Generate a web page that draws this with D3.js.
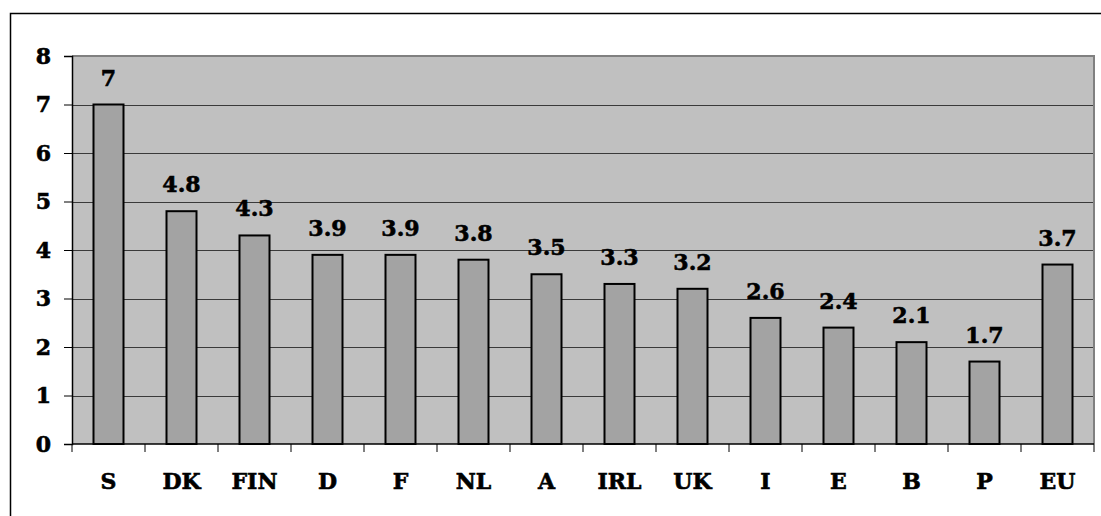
<!DOCTYPE html>
<html>
<head>
<meta charset="utf-8">
<script src="https://cdn.jsdelivr.net/npm/d3@7"></script>
<style>
  html, body { margin: 0; padding: 0; background: #ffffff; }
  svg { display: block; }
  text { font-family: "DejaVu Serif", serif; font-weight: bold; fill: #000; stroke: #000; stroke-width: 0.6px; }
</style>
</head>
<body>
<svg id="chart" width="1101" height="516"></svg>
<script>
// Country codes and their values
const categories = ["S", "DK", "FIN", "D", "F", "NL", "A", "IRL", "UK", "I", "E", "B", "P", "EU"];
const values = [7, 4.8, 4.3, 3.9, 3.9, 3.8, 3.5, 3.3, 3.2, 2.6, 2.4, 2.1, 1.7, 3.7];
const yTicks = [0, 1, 2, 3, 4, 5, 6, 7, 8];

const svg = d3.select("#chart");
const W = 1101, H = 516;

// Frame around the chart
svg.append("path")
  .attr("d", `M10.5,${H + 2} V13.5 H${W + 2}`)
  .attr("fill", "none")
  .attr("stroke", "#000")
  .attr("stroke-width", 1.5);

const plot = { left: 72, right: 1094, top: 56, bottom: 444 };

const x = d3.scaleBand()
  .domain(categories)
  .range([plot.left, plot.right])
  .paddingInner(0)
  .paddingOuter(0);

const y = d3.scaleLinear()
  .domain([0, 8])
  .range([plot.bottom, plot.top]);

// Plot background
svg.append("rect")
  .attr("x", plot.left)
  .attr("y", plot.top)
  .attr("width", plot.right - plot.left)
  .attr("height", plot.bottom - plot.top)
  .attr("fill", "#c0c0c0");

// Horizontal gridlines
svg.append("g")
  .selectAll("line")
  .data(yTicks.filter(d => d > 0 && d < 8))
  .join("line")
  .attr("x1", plot.left)
  .attr("x2", plot.right)
  .attr("y1", d => Math.round(y(d)) + 0.5)
  .attr("y2", d => Math.round(y(d)) + 0.5)
  .attr("stroke", "#3a3a3a")
  .attr("stroke-width", 1);

// Top and right plot border
svg.append("path")
  .attr("d", `M${plot.left},${plot.top} H${plot.right} V${plot.bottom}`)
  .attr("fill", "none")
  .attr("stroke", "#808080")
  .attr("stroke-width", 2);

// Bars
const barW = 30;
svg.append("g")
  .selectAll("rect")
  .data(values)
  .join("rect")
  .attr("x", (d, i) => x(categories[i]) + x.bandwidth() / 2 - barW / 2)
  .attr("y", d => y(d))
  .attr("width", barW)
  .attr("height", d => y(0) - y(d))
  .attr("fill", "#a3a3a3")
  .attr("stroke", "#000")
  .attr("stroke-width", 2);

// Value labels
svg.append("g")
  .selectAll("text")
  .data(values)
  .join("text")
  .attr("x", (d, i) => x(categories[i]) + x.bandwidth() / 2)
  .attr("y", d => y(d) - 19)
  .attr("text-anchor", "middle")
  .attr("font-size", 22)
  .text(d => String(d));

// Y axis
const yAxis = d3.axisLeft(y)
  .tickValues(yTicks)
  .tickSize(8)
  .tickPadding(13)
  .tickFormat(d3.format("d"));
const gy = svg.append("g")
  .attr("transform", `translate(${plot.left},0)`)
  .call(yAxis);
gy.select(".domain").attr("stroke", "#000").attr("stroke-width", 1.5);
gy.selectAll(".tick line").attr("stroke", "#000").attr("stroke-width", 1);
gy.selectAll(".tick text")
  .attr("font-family", "DejaVu Serif")
  .attr("font-weight", "bold")
  .attr("font-size", 22)
  .attr("fill", "#000");

// X axis: ticks at category boundaries
const gx = svg.append("g")
  .attr("transform", `translate(0,${plot.bottom})`);
gx.append("line")
  .attr("x1", plot.left)
  .attr("x2", plot.right)
  .attr("y1", 0)
  .attr("y2", 0)
  .attr("stroke", "#000")
  .attr("stroke-width", 1.5);
gx.selectAll("line.tick")
  .data(categories.map(c => x(c)).concat([plot.right]))
  .join("line")
  .attr("class", "tick")
  .attr("x1", d => d)
  .attr("x2", d => d)
  .attr("y1", 0)
  .attr("y2", 8)
  .attr("stroke", "#000")
  .attr("stroke-width", 1);
gx.selectAll("text")
  .data(categories)
  .join("text")
  .attr("x", d => x(d) + x.bandwidth() / 2)
  .attr("y", 45)
  .attr("text-anchor", "middle")
  .attr("font-size", 22)
  .text(d => d);
</script>
</body>
</html>
